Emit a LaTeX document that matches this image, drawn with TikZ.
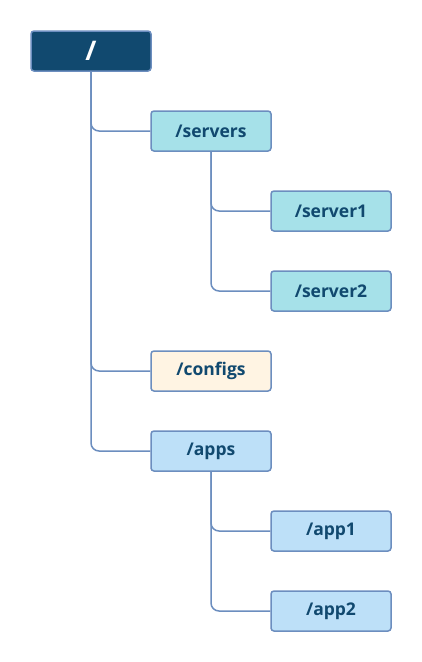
\documentclass[tikz,border=0pt]{standalone}
\usepackage{fontspec}
\setmainfont{Open Sans}
\definecolor{rootfill}{HTML}{11496F}
\definecolor{edgec}{HTML}{6C8EBF}
\definecolor{srvfill}{HTML}{A6E1E9}
\definecolor{cfgfill}{HTML}{FFF4E3}
\definecolor{appfill}{HTML}{BDE0F8}
\definecolor{txt}{HTML}{11496F}
\begin{document}
\begin{tikzpicture}[x=1pt,y=-1pt,
  box/.style={draw=edgec,line width=1.5pt,rounded corners=3pt,minimum width=120pt,minimum height=40pt,inner sep=0pt,font=\bfseries\fontsize{17.5}{19}\selectfont,text=txt},
  rootbox/.style={box,fill=rootfill,text=white,font=\bfseries\fontsize{27}{29}\selectfont},
  srv/.style={box,fill=srvfill},
  cfg/.style={box,fill=cfgfill},
  app/.style={box,fill=appfill},
  conn/.style={draw=edgec,line width=1.5pt,rounded corners=8pt}]
\useasboundingbox (0,0) rectangle (422,662);
\node[rootbox] (root) at (91,51) {/};
\node[srv] (servers) at (211,131) {/servers};
\node[srv] (server1) at (331,211) {/server1};
\node[srv] (server2) at (331,291) {/server2};
\node[cfg] (configs) at (211,371) {/configs};
\node[app] (apps) at (211,451) {/apps};
\node[app] (app1) at (331,531) {/app1};
\node[app] (app2) at (331,611) {/app2};
\foreach \c in {servers,configs,apps}
  \draw[conn] (root.south) |- (\c.west);
\foreach \c in {server1,server2}
  \draw[conn] (servers.south) |- (\c.west);
\foreach \c in {app1,app2}
  \draw[conn] (apps.south) |- (\c.west);
\end{tikzpicture}
\end{document}
